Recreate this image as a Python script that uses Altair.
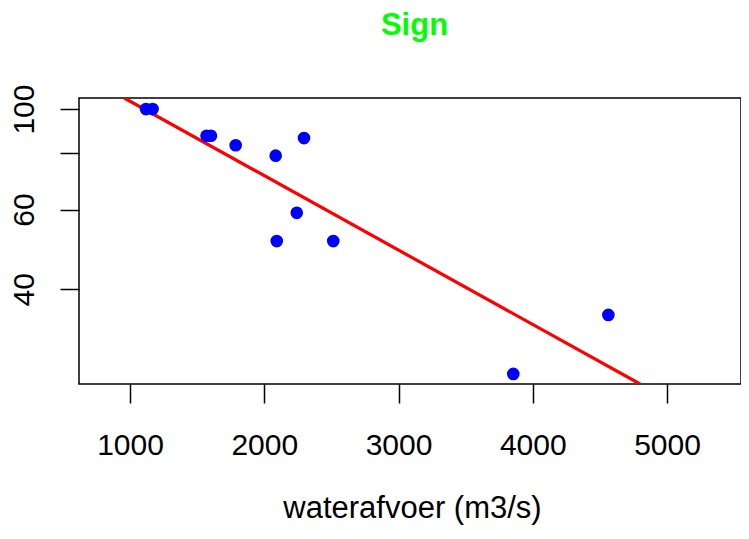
import altair as alt
import pandas as pd

# data
flow = [1119, 1168, 1570, 1603, 1787, 2085, 2296, 2242, 2093, 2514, 3855, 4563]
sign = [100.0, 100.0, 87.3, 87.3, 83.2, 78.9, 86.3, 59.0, 51.1, 51.1, 26.0, 35.1]

fit_flow = [957, 4799]
fit_sign = [105.8, 24.7]

x_ticks = [1000, 2000, 3000, 4000, 5000]
y_ticks = [40, 60, 80, 100]
title_text = ["Sign"]

pts = pd.DataFrame({"flow": flow, "sign": sign})
fit = pd.DataFrame({"flow": fit_flow, "sign": fit_sign})
ttl = pd.DataFrame({"t": title_text})

FONT = "Liberation Sans"

xscale = alt.Scale(domain=[620, 5551], nice=False, zero=False)
yscale = alt.Scale(type="log", domain=[24.7, 105.8], nice=False, zero=False)

xaxis = alt.Axis(
    title="waterafvoer (m3/s)", values=x_ticks, grid=False, domain=False, format="d",
    tickColor="black", tickWidth=1.5, tickSize=19,
    labelFont=FONT, labelFontSize=30, labelColor="black",
    labelBaseline="alphabetic", labelPadding=51, labelFlush=False,
    titleFont=FONT, titleFontSize=31, titleFontWeight="normal", titleColor="black",
    titleBaseline="alphabetic", titleX=333, titleY=133, titleAlign="center",
)
yaxis = alt.Axis(
    title=None, values=y_ticks, grid=False, domain=False, format="d",
    labelExpr="datum.value == 80 ? '' : datum.label",
    tickColor="black", tickWidth=1.5, tickSize=19,
    labelFont=FONT, labelFontSize=30, labelColor="black",
    labelAngle=270, labelAlign="center", labelBaseline="alphabetic",
    labelPadding=27, labelFlush=False,
)

points = alt.Chart(pts).mark_circle(size=160, color="#0000FF", opacity=1).encode(
    x=alt.X("flow:Q", scale=xscale, axis=xaxis),
    y=alt.Y("sign:Q", scale=yscale, axis=yaxis),
)
line = alt.Chart(fit).mark_line(color="#FF0000", strokeWidth=3.2, clip=True).encode(
    x=alt.X("flow:Q", scale=xscale),
    y=alt.Y("sign:Q", scale=yscale),
)
title = alt.Chart(ttl).mark_text(
    font=FONT, fontSize=31, fontWeight="bold", color="#00FF00",
    align="center", baseline="alphabetic",
).encode(text="t:N", x=alt.value(335.5), y=alt.value(-63))

chart = (
    alt.layer(line, points, title)
    .properties(
        width=662, height=286,
        autosize=alt.AutoSizeParams(type="none"),
        padding={"left": 71, "top": 90, "right": 0, "bottom": 142},
        background="white",
    )
    .configure_view(stroke="black", strokeWidth=1.5)
)

chart.save("out.html", embed_options={"renderer": "svg", "actions": False})
